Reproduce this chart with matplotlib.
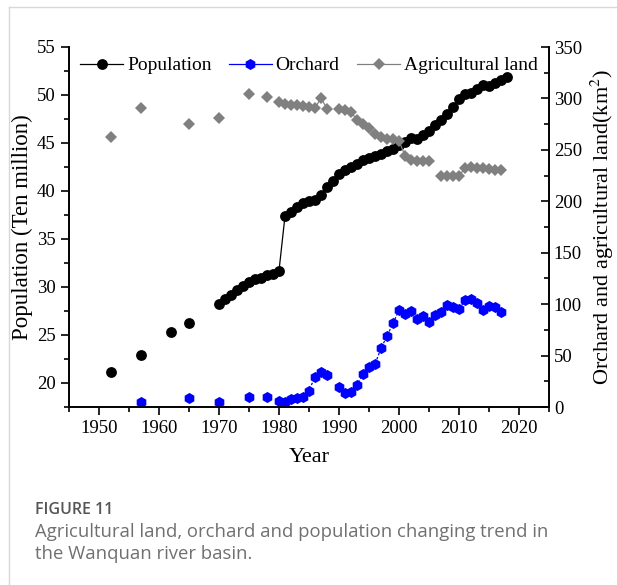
import numpy as np
import pandas as pd
import matplotlib
matplotlib.use("Agg")
import matplotlib.pyplot as plt
from matplotlib.lines import Line2D
from matplotlib.ticker import MultipleLocator

# population (ten million)
pop_years = [1952, 1957, 1962, 1965] + list(range(1970, 2019))
pop_vals = [21.1, 22.9, 25.3, 26.3,
            28.2, 28.7, 29.2, 29.7, 30.1, 30.5, 30.8, 30.9, 31.2, 31.4, 31.7,
            37.4, 37.8, 38.3, 38.7, 39.0, 39.1, 39.6, 40.4, 41.0, 41.8,
            42.2, 42.5, 42.8, 43.2, 43.4, 43.6, 43.9, 44.2, 44.4, 44.8,
            45.1, 45.5, 45.4, 45.8, 46.3, 46.9, 47.4, 48.0, 48.7, 49.6,
            50.1, 50.2, 50.6, 51.0, 50.9, 51.3, 51.6, 51.9]

# orchard area (km2)
orch_years = [1957, 1965, 1970, 1975, 1978] + list(range(1980, 1989)) + list(range(1990, 2018))
orch_vals = [5.2, 8.4, 4.5, 10.0, 9.4,
             5.8, 5.2, 7.4, 9.1, 10.0, 15.9, 29.5, 33.7, 31.1,
             19.7, 13.9, 14.9, 21.4, 32.1, 38.6, 41.8, 57.0, 69.0, 81.3,
             94.3, 90.5, 93.0, 85.7, 88.0, 82.2, 89.4, 92.3, 99.1, 97.5,
             95.0, 103.6, 104.8, 100.7, 94.3, 98.2, 96.9, 92.6]

# agricultural land (km2)
agri_years = [1952, 1957, 1965, 1970, 1975, 1978] + list(range(1980, 1989)) \
    + list(range(1990, 2006)) + list(range(2007, 2018))
agri_vals = [262.7, 290.3, 275.0, 280.9, 304.2, 301.0,
             297.0, 294.5, 293.5, 293.5, 293.0, 292.0, 290.5, 300.5, 289.8,
             290.0, 288.8, 286.7, 279.3, 274.8, 270.8, 265.6, 262.4, 260.2, 260.5,
             258.5, 244.5, 240.0, 239.0, 239.5, 239.5,
             225.0, 225.0, 225.0, 224.5, 232.5, 233.0, 232.5, 232.0, 231.5, 230.5, 230.0]

all_years = np.arange(1950, 2020)


def gapped(years, vals):
    # missing years become NaN so the line only joins consecutive years
    s = pd.Series(vals, index=years).reindex(all_years)
    return s.index.values, s.values


plt.rcParams['font.family'] = ['Liberation Serif', 'DejaVu Serif']
plt.rcParams['mathtext.fontset'] = 'stix'

fig = plt.figure(figsize=(6.17, 5.85), dpi=100)
ax = fig.add_axes([69 / 617, 1 - 407 / 585, 480 / 617, 360 / 585])
ax2 = ax.twinx()

x, y = gapped(pop_years, pop_vals)
ax.plot(x, y, color='black', lw=0.9, marker='o', ms=7.8, markeredgewidth=0)

x, y = gapped(orch_years, orch_vals)
ax2.plot(x, y, color='#0000ff', lw=0.9, ls=(0, (2, 1.5)), marker='h', ms=8.0,
         markeredgewidth=0)

x, y = gapped(agri_years, agri_vals)
ax2.plot(x, y, color='#808080', lw=0.9, marker='D', ms=6.2, markeredgewidth=0)

ax.set_xlim(1945, 2025)
ax.set_ylim(17.5, 55)
ax2.set_ylim(0, 350)

ax.xaxis.set_major_locator(MultipleLocator(10))
ax.xaxis.set_minor_locator(MultipleLocator(5))
ax.yaxis.set_major_locator(MultipleLocator(5))
ax.yaxis.set_minor_locator(MultipleLocator(2.5))
ax2.yaxis.set_major_locator(MultipleLocator(50))
ax2.yaxis.set_minor_locator(MultipleLocator(25))

for a in (ax, ax2):
    a.spines['top'].set_visible(False)
    for sp in a.spines.values():
        sp.set_linewidth(1.2)

ax.tick_params(which='major', direction='out', length=6, width=1.2, labelsize=13.5)
ax.tick_params(which='minor', direction='out', length=3.5, width=1.2)
ax2.tick_params(which='major', direction='in', length=6, width=1.2, labelsize=13.5)
ax2.tick_params(which='minor', direction='in', length=3.5, width=1.2)

ax.set_xlabel('Year', fontsize=16, labelpad=8)
ax.set_ylabel('Population (Ten million)', fontsize=16.5, labelpad=3)
ax2.set_ylabel('Orchard and agricultural land(km$^2$)', fontsize=16, labelpad=5)

# legend handles drawn with solid lines
handles = [
    Line2D([], [], color='black', lw=0.9, marker='o', ms=7.8, markeredgewidth=0),
    Line2D([], [], color='#0000ff', lw=0.9, marker='h', ms=8.0, markeredgewidth=0),
    Line2D([], [], color='#808080', lw=0.9, marker='D', ms=6.2, markeredgewidth=0),
]
ax2.legend(handles, ['Population', 'Orchard', 'Agricultural land'],
           loc='upper center', bbox_to_anchor=(0.5, 1.005),
           ncol=3, frameon=False, fontsize=14, handlelength=2.2,
           handletextpad=0.2, columnspacing=0.9, borderaxespad=0.2)

# caption under the chart
fig.text(35 / 617, 1 - 510 / 585, 'FIGURE 11', family='Open Sans', weight='semibold',
         fontsize=11.5, color='#555555', va='center')
fig.text(35 / 617, 1 - 532 / 585,
         'Agricultural land, orchard and population changing trend in',
         family='Open Sans', fontsize=13.3, color='#707070', va='center')
fig.text(35 / 617, 1 - 554 / 585, 'the Wanquan river basin.',
         family='Open Sans', fontsize=13.3, color='#707070', va='center')

# thin page border
fig.add_artist(Line2D([9 / 617, 1], [1 - 7 / 585, 1 - 7 / 585], color='#d8d8d8', lw=1))
fig.add_artist(Line2D([9 / 617, 9 / 617], [0, 1 - 7 / 585], color='#d8d8d8', lw=1))

fig.savefig('out.png', dpi=100)
